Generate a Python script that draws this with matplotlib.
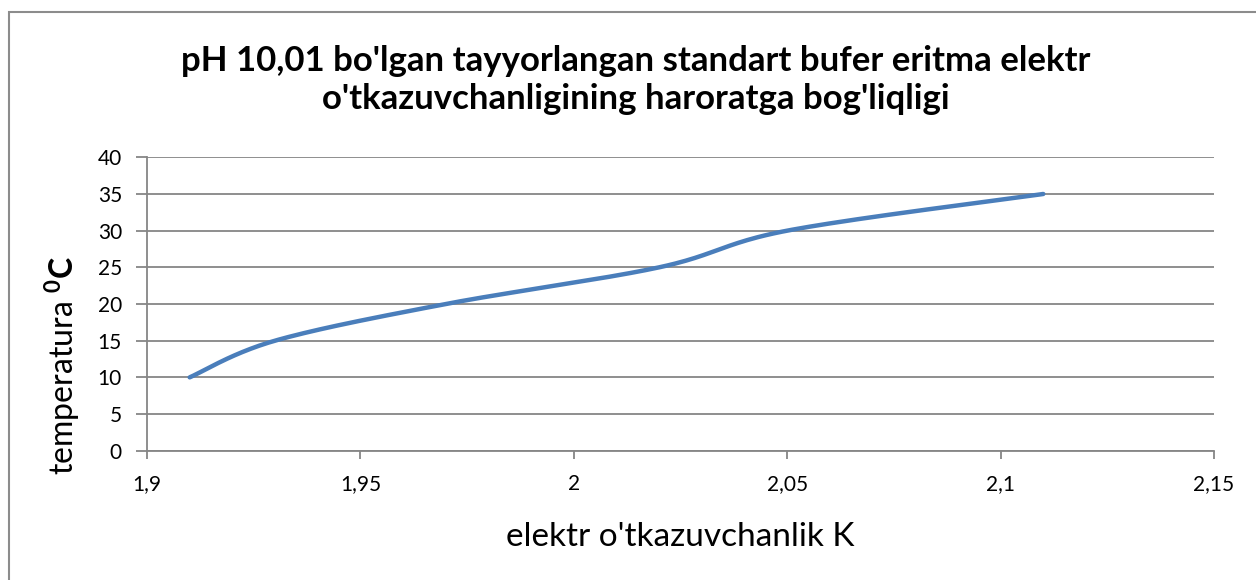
import numpy as np
import matplotlib
matplotlib.use("Agg")
import matplotlib.pyplot as plt
from matplotlib.patches import Rectangle

# Data
conductivity = [1.91, 1.93, 1.97, 2.02, 2.05, 2.11]
temperature = [10, 15, 20, 25, 30, 35]
x_ticks = [1.9, 1.95, 2.0, 2.05, 2.1, 2.15]
x_tick_labels = ["1,9", "1,95", "2", "2,05", "2,1", "2,15"]
y_ticks = [0, 5, 10, 15, 20, 25, 30, 35, 40]
title = "pH 10,01 bo'lgan tayyorlangan standart bufer eritma elektr\no'tkazuvchanligining haroratga bog'liqligi"
xlabel = "elektr o'tkazuvchanlik K"

plt.rcParams['font.family'] = ['Lato', 'DejaVu Sans']
plt.rcParams['mathtext.fontset'] = 'custom'
plt.rcParams['mathtext.rm'] = 'Lato'
plt.rcParams['mathtext.bf'] = 'Lato:bold'


def excel_smooth(xs, ys, n=40):
    P = np.column_stack([xs, ys]).astype(float)
    out = []
    m = len(P)
    for i in range(m - 1):
        p0 = P[i - 1] if i > 0 else P[i]
        p1 = P[i]
        p2 = P[i + 1]
        p3 = P[i + 2] if i + 2 < m else P[i + 1]
        c1 = p1 + (p2 - p0) / 6.0
        c2 = p2 - (p3 - p1) / 6.0
        t = np.linspace(0, 1, n)[:, None]
        seg = ((1 - t) ** 3) * p1 + 3 * ((1 - t) ** 2) * t * c1 + 3 * (1 - t) * t ** 2 * c2 + t ** 3 * p2
        out.append(seg if i == 0 else seg[1:])
    S = np.vstack(out)
    return S[:, 0], S[:, 1]


W, H = 1256, 580
fig = plt.figure(figsize=(W / 100, H / 100), dpi=100)
fig.patches.append(Rectangle((9 / W, 0 - 0.01), 1.2, (580 - 12) / H + 0.01,
                             transform=fig.transFigure, fill=False,
                             edgecolor='#8c8c8c', linewidth=1.5))

left, right, top, bottom = 147, 1214, 157.3, 450.7
ax = fig.add_axes([left / W, (H - bottom) / H, (right - left) / W, (bottom - top) / H])

grid_color = '#868686'
sx, sy = excel_smooth(conductivity, temperature)
ax.plot(sx, sy, color='#4a7ebb', linewidth=3.2, solid_capstyle='round', zorder=3)

ax.set_xlim(1.9, 2.15)
ax.set_ylim(0, 40)
ax.set_xticks(x_ticks)
ax.set_xticklabels(x_tick_labels)
ax.set_yticks(y_ticks)
ax.yaxis.grid(True, color=grid_color, linewidth=1.3)
ax.set_axisbelow(True)
for s in ['top', 'right']:
    ax.spines[s].set_visible(False)
for s in ['left', 'bottom']:
    ax.spines[s].set_color(grid_color)
    ax.spines[s].set_linewidth(1.3)
ax.tick_params(axis='both', colors=grid_color, labelcolor='black', labelsize=15,
               width=1.3, direction='out')
ax.tick_params(axis='x', length=6, pad=11)
ax.tick_params(axis='y', length=8, pad=10)

fig.text(636 / W, 1 - 80 / H, title, ha='center', va='center', fontsize=25,
         fontweight='bold', linespacing=1.2)
fig.text(680 / W, 1 - 537 / H, xlabel, ha='center', va='center', fontsize=24)
fig.text(62 / W, 1 - 365 / H, r'temperatura $^{\mathbf{0}}\mathbf{C}$', rotation=90,
         ha='center', va='center', fontsize=23)

fig.savefig('out.png', dpi=100)
